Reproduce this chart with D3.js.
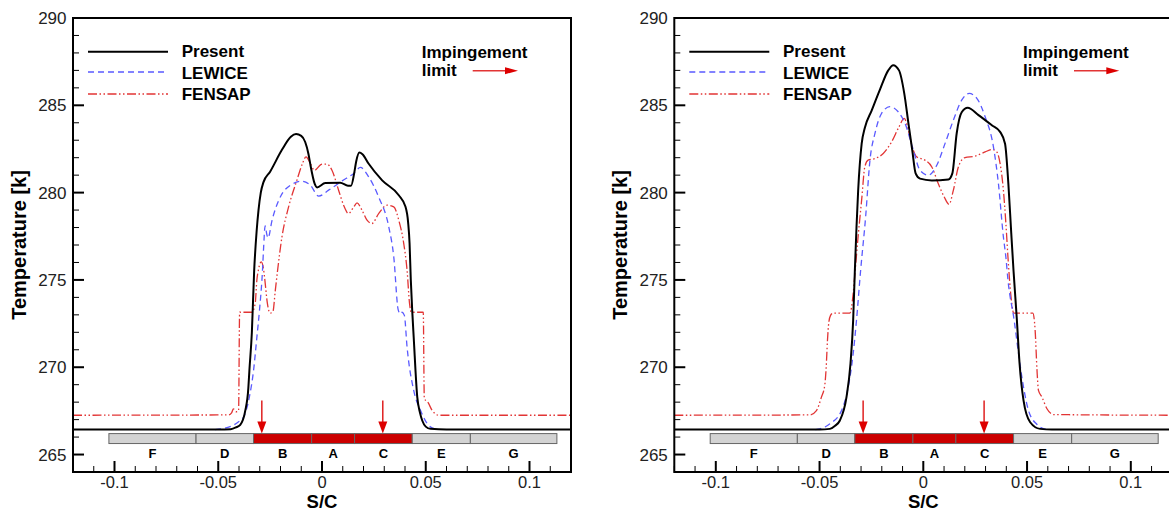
<!DOCTYPE html>
<html><head><meta charset="utf-8">
<script src="https://cdn.jsdelivr.net/npm/d3@7/dist/d3.min.js"></script>
<style>body{margin:0;background:#fff}svg{display:block}text{font-family:"Liberation Sans",Arial,sans-serif}</style>
</head><body>
<svg id="c" width="1169" height="512"></svg>
<script>
// ---- data ----
const xTicks = [-0.1, -0.05, 0, 0.05, 0.1];
const xTickLabels = ["-0.1", "-0.05", "0", "0.05", "0.1"];
const yTicks = [265, 270, 275, 280, 285, 290];
const seriesNames = ["Present", "LEWICE", "FENSAP"];
const segEdges = [-0.1027, -0.0607, -0.033, -0.005, 0.0157, 0.0435, 0.0715, 0.1132];
const segLabels = ["F", "D", "B", "A", "C", "E", "G"];
const segHeated = [false, false, true, true, true, false, false];
const impingementLimits = [-0.029, 0.0293];

const presentA = [[-0.12,266.43],[-0.05,266.43],[-0.044,266.45],[-0.0415,266.55],[-0.0394,266.7],[-0.037,267.5],[-0.0355,268.8],[-0.035,269.8],[-0.0338,272.0],[-0.0327,275.5],[-0.0315,277.8],[-0.0306,279.0],[-0.0295,280.0],[-0.0282,280.6],[-0.025,281.2],[-0.0193,282.45],[-0.015,283.2],[-0.0125,283.35],[-0.01,283.25],[-0.0081,282.9],[-0.0065,282.2],[-0.0056,281.6],[-0.0035,280.5],[-0.0024,280.3],[0.0016,280.55],[0.0088,280.56],[0.0125,280.4],[0.014,280.4],[0.0155,281.1],[0.0165,281.8],[0.018,282.3],[0.0195,282.2],[0.0225,281.65],[0.029,280.7],[0.037,279.85],[0.0402,279.2],[0.0415,278.3],[0.0422,277.1],[0.0428,275.0],[0.0435,273.2],[0.0442,271.7],[0.0459,268.3],[0.0472,267.4],[0.0483,266.95],[0.05,266.6],[0.0523,266.47],[0.06,266.43],[0.12,266.43]];
const lewiceA = [[-0.0515,266.43],[-0.0475,266.5],[-0.0443,266.6],[-0.0405,266.85],[-0.0378,267.15],[-0.035,268.3],[-0.033,269.8],[-0.0314,271.7],[-0.0301,273.3],[-0.0287,275.5],[-0.0282,276.7],[-0.0274,278.1],[-0.0266,277.6],[-0.026,277.4],[-0.0241,278.4],[-0.0201,279.75],[-0.0153,280.42],[-0.0097,280.65],[-0.0056,280.42],[-0.0016,279.8],[0.0032,280.14],[0.0097,280.67],[0.0153,281.1],[0.0185,281.44],[0.0225,280.9],[0.0273,279.75],[0.0322,278.03],[0.0346,276.3],[0.0367,273.3],[0.0378,273.05],[0.0386,273.15],[0.0397,272.97],[0.041,271.15],[0.0442,268.67],[0.0475,267.52],[0.0515,266.66],[0.0555,266.43]];
const fensapA = [[-0.12,267.25],[-0.045,267.27],[-0.0435,267.4],[-0.0427,267.62],[-0.0415,267.45],[-0.0402,267.5],[-0.0397,273.15],[-0.0338,273.15],[-0.0322,273.64],[-0.0314,274.98],[-0.0306,275.6],[-0.0293,276.03],[-0.0283,275.7],[-0.0277,275.17],[-0.0263,273.64],[-0.025,273.1],[-0.0237,273.16],[-0.0225,274.4],[-0.0214,275.55],[-0.0193,277.46],[-0.0161,279.18],[-0.0121,280.71],[-0.0094,281.67],[-0.0077,282.05],[-0.0056,281.67],[-0.0036,281.28],[0,281.63],[0.0024,281.63],[0.0048,281.28],[0.008,280.14],[0.0104,279.28],[0.0128,278.8],[0.0153,279.18],[0.0169,279.41],[0.0193,278.99],[0.0217,278.42],[0.0241,278.23],[0.0273,278.8],[0.0314,279.28],[0.0346,279.18],[0.037,278.42],[0.0394,277.08],[0.041,275.55],[0.0422,273.64],[0.043,273.15],[0.0488,273.15],[0.0493,268.2],[0.051,268.0],[0.0531,267.52],[0.0563,267.25],[0.12,267.25]];

const presentB = [[-0.12,266.43],[-0.05,266.43],[-0.045,266.47],[-0.0425,266.65],[-0.0402,266.95],[-0.037,268.3],[-0.0351,270.2],[-0.0338,272.7],[-0.033,275.5],[-0.0322,278.0],[-0.0314,280.1],[-0.0297,282.8],[-0.0282,283.7],[-0.0249,284.7],[-0.0209,285.9],[-0.0169,287.0],[-0.0145,287.3],[-0.0117,287.0],[-0.0092,285.7],[-0.0072,284.0],[-0.0053,282.4],[-0.0037,281.1],[-0.0016,280.8],[0.0041,280.7],[0.0121,280.75],[0.014,281.1],[0.0161,283.4],[0.0185,284.6],[0.0214,284.86],[0.0266,284.44],[0.033,283.86],[0.037,283.48],[0.0394,282.8],[0.041,280.5],[0.0424,277.65],[0.0435,275.5],[0.0451,272.7],[0.0464,270.2],[0.0483,268.1],[0.0515,266.85],[0.0563,266.47],[0.062,266.43],[0.12,266.43]];
const lewiceB = [[-0.052,266.43],[-0.0507,266.45],[-0.045,266.76],[-0.0394,267.52],[-0.0362,268.86],[-0.0338,270.77],[-0.0322,272.68],[-0.0302,275.55],[-0.0278,278.6],[-0.0257,281.86],[-0.0233,283.39],[-0.0201,284.54],[-0.0161,284.92],[-0.0121,284.63],[-0.0088,283.96],[-0.0048,282.43],[-0.0016,281.28],[0.0024,281.0],[0.0065,281.57],[0.0105,282.82],[0.0145,284.15],[0.0185,285.3],[0.0221,285.68],[0.0258,285.4],[0.0298,284.34],[0.0338,282.62],[0.0362,280.52],[0.0386,277.46],[0.0398,276.3],[0.0408,275.0],[0.0438,272.68],[0.0459,270.77],[0.0483,268.86],[0.0507,267.52],[0.0548,266.72],[0.0588,266.45],[0.06,266.43]];
const fensapB = [[-0.12,267.25],[-0.0547,267.27],[-0.0515,267.52],[-0.0491,268.29],[-0.0475,268.96],[-0.0468,270.0],[-0.0462,271.5],[-0.0455,272.6],[-0.0447,272.97],[-0.0435,273.1],[-0.0354,273.1],[-0.0338,274.2],[-0.033,275.3],[-0.0314,277.5],[-0.0297,279.6],[-0.0282,281.47],[-0.0266,281.86],[-0.0233,281.95],[-0.0193,282.24],[-0.0153,282.9],[-0.0117,283.77],[-0.0092,284.25],[-0.0072,283.58],[-0.0053,282.62],[-0.0032,282.05],[0.0008,281.86],[0.0041,281.47],[0.0072,280.52],[0.0101,279.75],[0.0124,279.33],[0.0145,280.14],[0.0169,281.47],[0.0201,282.01],[0.025,282.09],[0.0298,282.33],[0.033,282.47],[0.0354,282.33],[0.037,281.67],[0.0386,280.14],[0.0398,278.23],[0.0408,276.31],[0.0419,274.5],[0.0427,273.6],[0.0435,273.1],[0.0528,273.1],[0.0539,272.11],[0.0548,269.82],[0.0555,268.67],[0.0572,268.29],[0.0596,267.62],[0.0628,267.29],[0.12,267.25]];

// ---- drawing ----
const svg = d3.select("#c");
const styles = [
  {stroke:"#000", width:2, dash:null},
  {stroke:"#5a5aff", width:1.3, dash:"6,4"},
  {stroke:"#e23434", width:1.3, dash:"9,2.5,1.5,2.5,1.5,2.5"}
];
const FONT = 17;

function panel(id, x0, x1, series) {
  const top = 18, bot = 472;
  const x = d3.scaleLinear().domain([-0.12, 0.12]).range([x0, x1]);
  const y = d3.scaleLinear().domain([264, 290]).range([bot, top]);
  const g = svg.append("g");
  const clipId = "clip" + id;
  svg.append("defs").append("clipPath").attr("id", clipId)
    .append("rect").attr("x", x0).attr("y", top).attr("width", x1 - x0).attr("height", bot - top);

  // bar of heater segments
  const bar = g.append("g");
  const bTop = y(266.2), bBot = y(265.63);
  for (let i = 0; i < segLabels.length; i++) {
    bar.append("rect").attr("x", x(segEdges[i])).attr("y", bTop)
      .attr("width", x(segEdges[i + 1]) - x(segEdges[i])).attr("height", bBot - bTop)
      .attr("fill", segHeated[i] ? "#cc0000" : "#d3d3d3")
      .attr("stroke", "#666").attr("stroke-width", 1);
    bar.append("text").attr("x", x((segEdges[i] + segEdges[i + 1]) / 2)).attr("y", y(265.08) + 4.5)
      .attr("text-anchor", "middle").attr("font-size", 13).attr("font-weight", "bold").text(segLabels[i]);
  }
  // impingement arrows
  impingementLimits.forEach(s => {
    const ax = x(s), yt = y(268.1), tip = bTop;
    g.append("line").attr("x1", ax).attr("x2", ax).attr("y1", yt).attr("y2", tip - 10)
      .attr("stroke", "#dd1111").attr("stroke-width", 1.4);
    g.append("path").attr("d", `M${ax - 4.5},${tip - 12}L${ax + 4.5},${tip - 12}L${ax},${tip}Z`).attr("fill", "#dd0000");
  });

  // curves
  const line = d3.line().x(d => x(d[0])).y(d => y(d[1])).curve(d3.curveMonotoneX);
  const cg = g.append("g").attr("clip-path", `url(#${clipId})`);
  [2, 1, 0].forEach(i => {
    const p = cg.append("path").datum(series[i]).attr("d", line).attr("fill", "none")
      .attr("stroke", styles[i].stroke).attr("stroke-width", styles[i].width)
      .attr("stroke-linejoin", "round");
    if (styles[i].dash) p.attr("stroke-dasharray", styles[i].dash);
  });

  // axes ticks (inward)
  const ax = g.append("g").attr("stroke", "#000");
  d3.range(-0.12, 0.1201, 0.01).forEach(v => {
    const vv = Math.round(v * 100) / 100;
    const major = Math.abs(Math.round(vv * 20) - vv * 20) < 1e-6;
    ax.append("line").attr("x1", x(vv)).attr("x2", x(vv)).attr("y1", bot).attr("y2", bot - (major ? 11 : 6))
      .attr("stroke-width", major ? 2 : 1);
  });
  d3.range(264, 290.01, 1).forEach(v => {
    const major = v % 5 === 0;
    ax.append("line").attr("x1", x0).attr("x2", x0 + (major ? 11 : 6)).attr("y1", y(v)).attr("y2", y(v))
      .attr("stroke-width", major ? 2 : 1);
  });
  // frame
  g.append("rect").attr("x", x0).attr("y", top).attr("width", x1 - x0).attr("height", bot - top)
    .attr("fill", "none").attr("stroke", "#000").attr("stroke-width", 2);

  // tick labels
  xTicks.forEach((v, i) => g.append("text").attr("x", x(v)).attr("y", 487.5).attr("text-anchor", "middle")
    .attr("font-size", 16.5).attr("fill", "#222").text(xTickLabels[i]));
  yTicks.forEach(v => g.append("text").attr("x", x0 - 6.5).attr("y", y(v) + 6).attr("text-anchor", "end")
    .attr("font-size", FONT).attr("fill", "#222").text(v));
  // axis titles
  g.append("text").attr("x", x(0)).attr("y", 508).attr("text-anchor", "middle")
    .attr("font-size", 18.5).attr("font-weight", "bold").text("S/C");
  g.append("text").attr("transform", `translate(${x0 - 47},245) rotate(-90)`).attr("text-anchor", "middle")
    .attr("font-size", 20).attr("font-weight", "bold").text("Temperature [k]");

  // legend
  const ly = [51.7, 72, 94], lt = [57.3, 78.8, 100];
  seriesNames.forEach((n, i) => {
    const l = g.append("line").attr("x1", x0 + 15).attr("x2", x0 + 95).attr("y1", ly[i]).attr("y2", ly[i])
      .attr("stroke", styles[i].stroke).attr("stroke-width", styles[i].width);
    if (styles[i].dash) l.attr("stroke-dasharray", styles[i].dash);
    g.append("text").attr("x", x0 + 108.7).attr("y", lt[i]).attr("font-size", FONT).attr("font-weight", "bold").text(n);
  });
  g.append("text").attr("x", x0 + 348.7).attr("y", 58.3).attr("font-size", FONT).attr("font-weight", "bold").text("Impingement");
  g.append("text").attr("x", x0 + 348.7).attr("y", 76).attr("font-size", FONT).attr("font-weight", "bold").text("limit");
  g.append("line").attr("x1", x0 + 399.7).attr("x2", x0 + 434).attr("y1", 70.7).attr("y2", 70.7)
    .attr("stroke", "#e23434").attr("stroke-width", 1.4);
  g.append("path").attr("d", `M${x0 + 432},${70.7 - 3.5}L${x0 + 445},70.7L${x0 + 432},${70.7 + 3.5}Z`).attr("fill", "#dd0000");
}

panel("A", 73, 571, [presentA, lewiceA, fensapA]);
panel("B", 674.3, 1172.3, [presentB, lewiceB, fensapB]);
</script>
</body></html>
